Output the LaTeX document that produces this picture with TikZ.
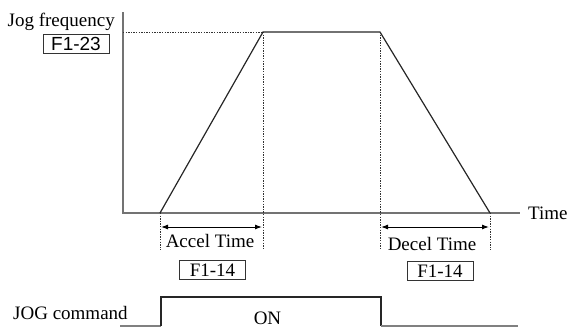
\documentclass[tikz,border=0pt]{standalone}
\usepackage{fontspec}
\setmainfont{Liberation Serif}
\newfontfamily\arialfont{Liberation Sans}
\usetikzlibrary{arrows.meta}
\begin{document}
\begin{tikzpicture}[x=1pt,y=-1pt,
  axis/.style={draw=black!55,line width=1.4pt},
  curve/.style={draw=black!85,line width=1.2pt},
  guide/.style={draw=black!80,line width=0.9pt,dash pattern=on 1.3pt off 1.3pt},
  span/.style={draw=black,line width=1pt,{Latex[length=7pt,width=5pt]}-{Latex[length=7pt,width=5pt]}},
  lbl/.style={inner sep=0pt,font=\fontsize{19}{21}\selectfont},
  parbox/.style={draw=black!80,line width=0.9pt,inner sep=0pt,minimum width=66pt,minimum height=19pt,font=\fontsize{19}{21}\selectfont},
  siglow/.style={draw=black!50,line width=1.2pt},
  sighigh/.style={draw=black!85,line width=1.2pt}]
\useasboundingbox (0,0) rectangle (568,327);
% axes
\coordinate (ytop) at (123,12);
\coordinate (O) at (123,213);
\coordinate (xend) at (520,213);
\draw[axis] (ytop) -- (O) -- (xend);
% trapezoid
\coordinate (A) at (160,213);
\coordinate (B) at (263,32);
\coordinate (C) at (380,32);
\coordinate (D) at (490,213);
\coordinate (Ylev) at (123,32);
\draw[curve] (A) -- (B) -- (C) -- (D);
% guides
\coordinate (Ab) at (160,250);
\coordinate (Bb) at (263,250);
\coordinate (Cb) at (380,250);
\coordinate (Db) at (490,250);
\draw[guide] (Ylev) -- (B);
\draw[guide] (A) -- (Ab);
\draw[guide] (B) -- (Bb);
\draw[guide] (C) -- (Cb);
\draw[guide] (D) -- (Db);
% spans
\coordinate (a1) at (161,227);
\coordinate (a2) at (262,227);
\coordinate (d1) at (381,227);
\coordinate (d2) at (489,227);
\draw[span] (a1) -- (a2);
\draw[span] (d1) -- (d2);
% labels
\node[lbl,anchor=base east] (jf) at (115,26) {Jog frequency};
\node[parbox,font=\arialfont\fontsize{19}{21}\selectfont] (f123) at (76,43.5) {F1-23};
\node[lbl,anchor=base west] (time) at (528,219) {Time};
\node[lbl,anchor=base] (acc) at (210,247) {Accel Time};
\node[lbl,anchor=base] (dec) at (432,250) {Decel Time};
\node[parbox] (f114a) at (212.5,270) {F1-14};
\node[parbox] (f114b) at (440,271) {F1-14};
% JOG command
\node[lbl,anchor=base west] (jog) at (13,319) {JOG command};
\coordinate (s0) at (120,326);
\coordinate (s1) at (161,326);
\coordinate (s2) at (161,297);
\coordinate (s3) at (381,297);
\coordinate (s4) at (381,326);
\coordinate (s5) at (518,326);
\draw[siglow] (s0) -- (s1);
\draw[sighigh] (s1) -- (s2) -- (s3) -- (s4);
\draw[siglow] (s4) -- (s5);
\node[lbl,anchor=base] (on) at (267.5,324) {ON};
\end{tikzpicture}
\end{document}
